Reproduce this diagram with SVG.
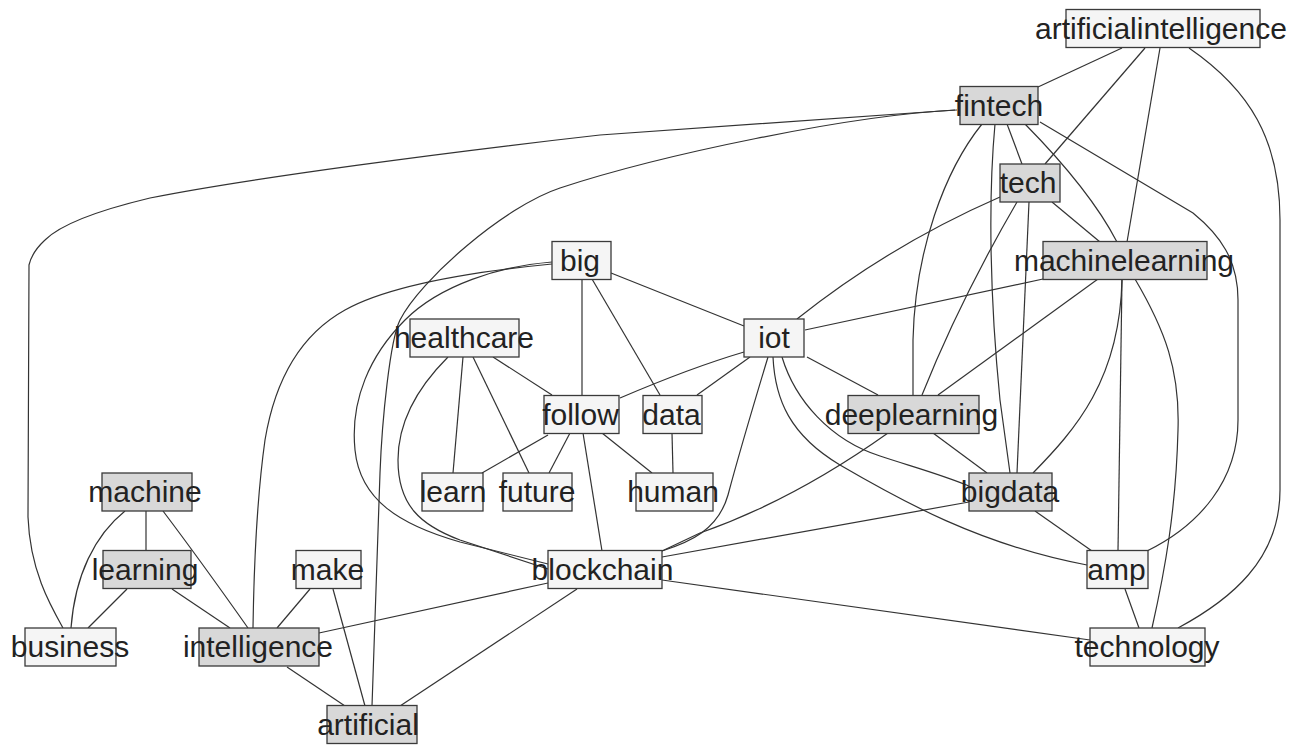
<svg xmlns="http://www.w3.org/2000/svg" width="1298" height="745" viewBox="0 0 1298 745">
<style>
.e{fill:none;stroke:#333;stroke-width:1.2}
.n rect{stroke:#3a3a3a;stroke-width:1.3}
.g{fill:#d8d8d8}
.w{fill:#f5f5f5}
text{font-family:"Liberation Sans",Arial,sans-serif;font-size:30px;fill:#222;text-anchor:middle}
</style>
<rect x="0" y="0" width="1298" height="745" fill="#ffffff"/>
<g id="edges">
<path class="e" d="M1122,48 L1038,87"/>
<path class="e" d="M1145,48 L1045,164"/>
<path class="e" d="M1160,48 L1127,242"/>
<path class="e" d="M1189,48 C1250,90 1280,140 1280,220 L1280,490 C1280,560 1230,600 1178,628"/>
<path class="e" d="M1007,124 L1022,164"/>
<path class="e" d="M1025,124 Q1090,190 1117,242"/>
<path class="e" d="M1040,122 L1193,213 C1220,235 1238,260 1238,300 L1238,420 C1238,480 1200,525 1147,551"/>
<path class="e" d="M995,124 C988,200 990,300 1000,400 L1010,473"/>
<path class="e" d="M982,124 C945,170 915,250 913,340 L913,395"/>
<path class="e" d="M955,110 L600,135 C450,152 250,178 150,198 C100,210 60,225 45,240 Q32,252 29,265 L28,517 C30,570 50,605 63,628"/>
<path class="e" d="M957,110 C850,115 660,155 560,188 C505,206 420,280 400,320 C390,340 382,420 380,473 L372,706"/>
<path class="e" d="M1052,202 L1100,242"/>
<path class="e" d="M1000,197 Q890,245 797,319"/>
<path class="e" d="M1017,202 Q960,300 922,395"/>
<path class="e" d="M1029,202 L1017,473"/>
<path class="e" d="M1043,279 L805,330"/>
<path class="e" d="M1098,279 L938,395"/>
<path class="e" d="M1122,279 L1118,551"/>
<path class="e" d="M1122,279 C1120,380 1075,430 1033,473"/>
<path class="e" d="M1135,279 C1165,330 1180,370 1178,430 C1176,510 1165,570 1152,628"/>
<path class="e" d="M611,273 L744,326"/>
<path class="e" d="M582,279 L582,395"/>
<path class="e" d="M592,279 L660,395"/>
<path class="e" d="M552,264 C470,272 390,285 345,310 C300,335 275,380 265,440 C258,490 254,560 253,628"/>
<path class="e" d="M552,262 C500,266 440,285 405,320 C370,355 350,400 355,450 C360,500 400,525 460,542 L548,564"/>
<path class="e" d="M448,357 C420,385 398,420 398,460 C398,505 420,525 460,540 L548,569"/>
<path class="e" d="M463,357 L453,473"/>
<path class="e" d="M473,357 L529,473"/>
<path class="e" d="M493,357 L552,395"/>
<path class="e" d="M548,435 L482,473"/>
<path class="e" d="M570,433 L549,473"/>
<path class="e" d="M583,433 L602,551"/>
<path class="e" d="M602,433 L652,473"/>
<path class="e" d="M672,433 L673,473"/>
<path class="e" d="M750,357 L697,395"/>
<path class="e" d="M807,357 L878,395"/>
<path class="e" d="M744,352 Q690,368 620,398"/>
<path class="e" d="M782,357 C795,400 830,440 880,456 C910,466 940,474 969,486"/>
<path class="e" d="M773,357 C775,400 790,435 840,465 C900,500 980,545 1087,565"/>
<path class="e" d="M768,357 C755,400 740,450 728,495 C718,530 690,542 662,551"/>
<path class="e" d="M933,433 L987,473"/>
<path class="e" d="M888,433 C850,460 780,505 700,533 L662,551"/>
<path class="e" d="M969,502 L662,557"/>
<path class="e" d="M1035,511 L1092,551"/>
<path class="e" d="M662,580 L1090,640"/>
<path class="e" d="M1125,589 L1139,628"/>
<path class="e" d="M146,511 L146,551"/>
<path class="e" d="M125,511 C95,535 75,575 71,628"/>
<path class="e" d="M163,511 Q200,560 248,628"/>
<path class="e" d="M127,589 L88,628"/>
<path class="e" d="M172,589 L230,628"/>
<path class="e" d="M310,589 L277,628"/>
<path class="e" d="M333,589 L365,706"/>
<path class="e" d="M287,667 L345,706"/>
<path class="e" d="M548,583 L319,633"/>
<path class="e" d="M577,589 L400,706"/>
</g>
<g id="n-artificialintelligence" class="n"><rect class="w" x="1066" y="9.5" width="194" height="38"/><text x="1161" y="38.5">artificialintelligence</text></g>
<g id="n-fintech" class="n"><rect class="g" x="960" y="86.5" width="78" height="38"/><text x="999" y="115.5">fintech</text></g>
<g id="n-tech" class="n"><rect class="g" x="1000" y="164" width="60" height="38"/><text x="1028" y="193">tech</text></g>
<g id="n-machinelearning" class="n"><rect class="g" x="1043" y="241.5" width="164" height="38"/><text x="1124" y="270.5">machinelearning</text></g>
<g id="n-big" class="n"><rect class="w" x="552" y="241.5" width="59" height="38"/><text x="580" y="270.5">big</text></g>
<g id="n-healthcare" class="n"><rect class="w" x="410" y="319" width="109" height="38"/><text x="464" y="348">healthcare</text></g>
<g id="n-iot" class="n"><rect class="w" x="744" y="319" width="60" height="38"/><text x="774" y="348">iot</text></g>
<g id="n-follow" class="n"><rect class="w" x="544" y="395.5" width="75" height="38"/><text x="580.5" y="424.5">follow</text></g>
<g id="n-data" class="n"><rect class="w" x="643" y="395.5" width="59" height="38"/><text x="671.5" y="424.5">data</text></g>
<g id="n-deeplearning" class="n"><rect class="g" x="848" y="395.5" width="131" height="38"/><text x="911.5" y="424.5">deeplearning</text></g>
<g id="n-machine" class="n"><rect class="g" x="102" y="473" width="90" height="38"/><text x="145" y="502">machine</text></g>
<g id="n-learn" class="n"><rect class="w" x="422" y="473" width="61" height="38"/><text x="453" y="502">learn</text></g>
<g id="n-future" class="n"><rect class="w" x="503" y="473" width="69" height="38"/><text x="537" y="502">future</text></g>
<g id="n-human" class="n"><rect class="w" x="636" y="473" width="77" height="38"/><text x="673" y="502">human</text></g>
<g id="n-bigdata" class="n"><rect class="g" x="969" y="473" width="83" height="38"/><text x="1010" y="502">bigdata</text></g>
<g id="n-learning" class="n"><rect class="g" x="103" y="550.5" width="88" height="38"/><text x="145" y="579.5">learning</text></g>
<g id="n-make" class="n"><rect class="w" x="296" y="550.5" width="65" height="38"/><text x="327.5" y="579.5">make</text></g>
<g id="n-blockchain" class="n"><rect class="w" x="548" y="550.5" width="114" height="38"/><text x="602.5" y="579.5">blockchain</text></g>
<g id="n-amp" class="n"><rect class="w" x="1087" y="550.5" width="61" height="38"/><text x="1116.5" y="579.5">amp</text></g>
<g id="n-business" class="n"><rect class="w" x="25" y="628" width="91" height="38"/><text x="70" y="657">business</text></g>
<g id="n-intelligence" class="n"><rect class="g" x="199" y="628" width="120" height="38"/><text x="258" y="657">intelligence</text></g>
<g id="n-technology" class="n"><rect class="w" x="1090" y="628" width="115" height="38"/><text x="1147" y="657">technology</text></g>
<g id="n-artificial" class="n"><rect class="g" x="327" y="705.5" width="90" height="38"/><text x="368" y="734.5">artificial</text></g>
</svg>
